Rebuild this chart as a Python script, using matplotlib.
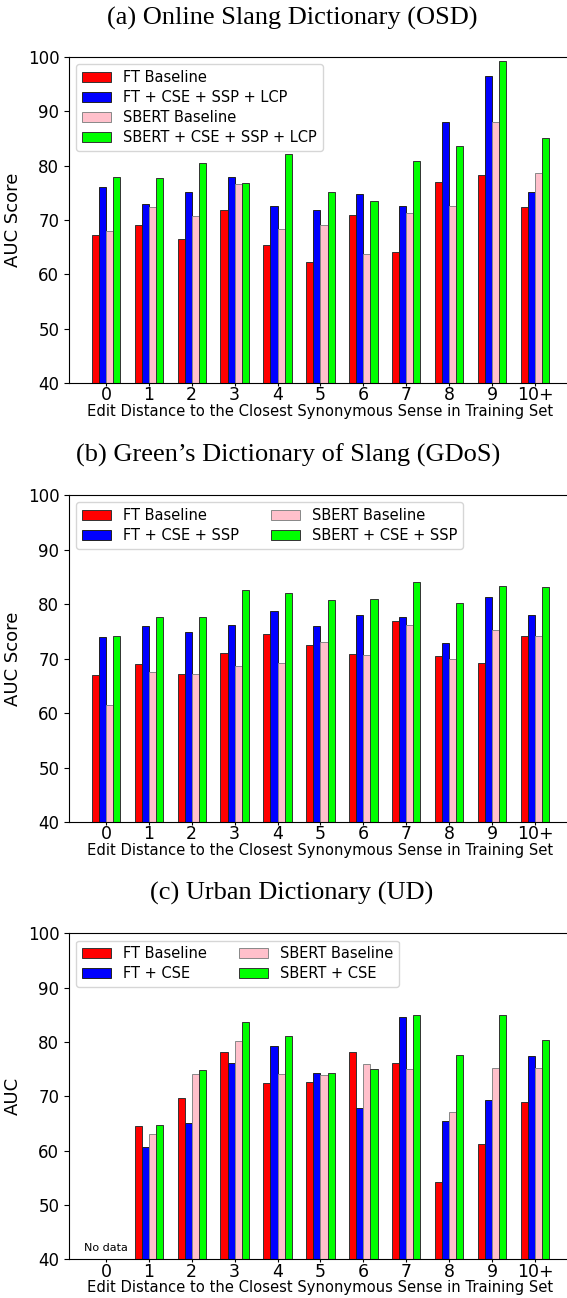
import numpy as np
import matplotlib
matplotlib.use("Agg")
import matplotlib.pyplot as plt

categories = ["0", "1", "2", "3", "4", "5", "6", "7", "8", "9", "10+"]

# (a) Online Slang Dictionary
osd_ft = [67.2, 69.0, 66.4, 71.9, 65.3, 62.2, 70.9, 64.0, 76.9, 78.2, 72.4]
osd_ft_full = [76.1, 72.9, 75.2, 77.9, 72.6, 71.9, 74.8, 72.5, 88.0, 96.4, 75.2]
osd_sbert = [67.9, 72.4, 70.7, 76.6, 68.3, 69.1, 63.7, 71.3, 72.6, 88.0, 78.7]
osd_sbert_full = [77.9, 77.7, 80.4, 76.7, 82.1, 75.2, 73.5, 80.8, 83.6, 99.2, 85.0]

# (b) Green's Dictionary of Slang
gdos_ft = [66.9, 69.0, 67.1, 71.0, 74.5, 72.5, 70.8, 76.8, 70.4, 69.1, 74.1]
gdos_ft_full = [73.9, 76.0, 74.9, 76.2, 78.7, 76.0, 78.0, 77.6, 72.8, 81.3, 77.9]
gdos_sbert = [61.5, 67.5, 67.1, 68.6, 69.2, 73.1, 70.6, 76.1, 69.9, 75.2, 74.1]
gdos_sbert_full = [74.1, 77.7, 77.6, 82.6, 82.0, 80.7, 81.0, 84.1, 80.2, 83.3, 83.1]

# (c) Urban Dictionary (pas de données pour 0)
ud_ft = [np.nan, 64.5, 69.7, 78.2, 72.5, 72.6, 78.2, 76.2, 54.3, 61.2, 68.9]
ud_ft_cse = [np.nan, 60.7, 65.1, 76.2, 79.3, 74.2, 67.8, 84.6, 65.5, 69.4, 77.5]
ud_sbert = [np.nan, 63.0, 74.1, 80.2, 74.1, 73.9, 76.0, 75.0, 67.1, 75.2, 75.2]
ud_sbert_cse = [np.nan, 64.8, 74.8, 83.7, 81.1, 74.2, 75.0, 84.9, 77.6, 85.0, 80.4]

couleurs = ["#ff0000", "#0000ff", "pink", "#00ff00"]
bords = ["#333333", "#222222", "#888888", "#333333"]
largeur = 0.165
xlabel = "Edit Distance to the Closest Synonymous Sense in Training Set"


def tracer_panneau(ax, series, noms, ylabel, ncol):
    x = np.arange(len(categories))
    for i, (vals, nom) in enumerate(zip(series, noms)):
        ax.bar(x + (i - 1.5) * largeur, vals, largeur, color=couleurs[i],
               edgecolor=bords[i], linewidth=0.7, label=nom)
    ax.set_xlim(-0.86, 10.86)
    ax.set_ylim(40, 100)
    ax.set_yticks([40, 50, 60, 70, 80, 90, 100])
    ax.set_xticks(x)
    ax.set_xticklabels(categories, fontsize=12.5)
    ax.tick_params(axis="y", labelsize=12)
    ax.tick_params(axis="x", length=2, pad=0.5)
    ax.set_xlabel(xlabel, fontsize=10.6, labelpad=-0.5)
    ax.set_ylabel(ylabel, fontsize=13)
    ax.legend(loc="upper left", ncol=ncol, fontsize=10.5, borderaxespad=0.5,
              labelspacing=0.35, columnspacing=2.2)


fig = plt.figure(figsize=(5.67, 12.98), dpi=100)

ax1 = fig.add_axes([0.1217, 0.7050, 0.887, 0.2512])
tracer_panneau(ax1, [osd_ft, osd_ft_full, osd_sbert, osd_sbert_full],
               ["FT Baseline", "FT + CSE + SSP + LCP", "SBERT Baseline",
                "SBERT + CSE + SSP + LCP"], "AUC Score", 1)

ax2 = fig.add_axes([0.1217, 0.3667, 0.887, 0.2519])
tracer_panneau(ax2, [gdos_ft, gdos_ft_full, gdos_sbert, gdos_sbert_full],
               ["FT Baseline", "FT + CSE + SSP", "SBERT Baseline",
                "SBERT + CSE + SSP"], "AUC Score", 2)

ax3 = fig.add_axes([0.1217, 0.0298, 0.887, 0.2512])
tracer_panneau(ax3, [ud_ft, ud_ft_cse, ud_sbert, ud_sbert_cse],
               ["FT Baseline", "FT + CSE", "SBERT Baseline", "SBERT + CSE"],
               "AUC", 2)
ax3.text(0, 42.0, "No data", fontsize=8, ha="center", va="center")

titre = dict(fontsize=19, family="Liberation Serif", ha="center", va="center")
fig.text(0.515, 1 - 18 / 1298, "(a) Online Slang Dictionary (OSD)", **titre)
fig.text(0.508, 1 - 455 / 1298, "(b) Green\u2019s Dictionary of Slang (GDoS)", **titre)
fig.text(0.515, 1 - 893 / 1298, "(c) Urban Dictionary (UD)", **titre)

fig.savefig("out.png", dpi=100)
